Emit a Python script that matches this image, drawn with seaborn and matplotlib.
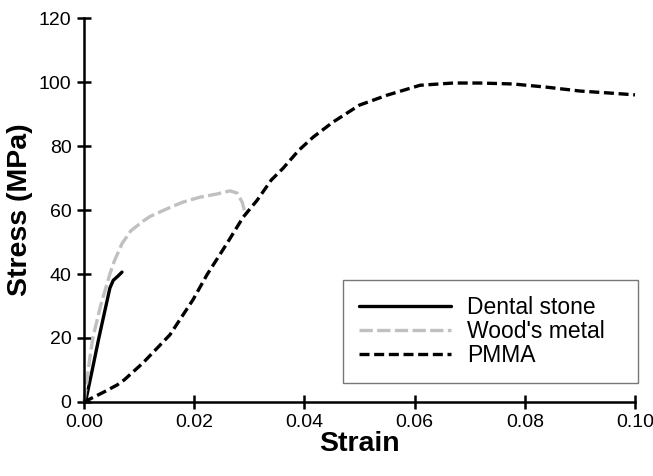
import matplotlib
matplotlib.use("Agg")
import matplotlib.pyplot as plt
import seaborn as sns
import pandas as pd

# curves
dental_strain = [0, 0.0004, 0.0015, 0.0027, 0.0047, 0.0053, 0.0062, 0.0069]
dental_stress = [0, 1, 10, 20, 35.6, 38, 39.4, 40.6]

wood_strain = [0, 0.0005, 0.001, 0.0016, 0.003, 0.0047, 0.0055, 0.0069, 0.0085,
               0.0107, 0.012, 0.0156, 0.018, 0.021, 0.0241, 0.0265, 0.0278,
               0.0287, 0.0292]
wood_stress = [0, 6, 13, 20, 30, 40, 44, 49.5, 53.5,
               56.5, 58, 60.8, 62.5, 64, 65, 66, 65.3,
               62.5, 59.4]

pmma_strain = [0, 0.0036, 0.006, 0.0073, 0.0107, 0.0156, 0.0198, 0.0223, 0.026,
               0.0289, 0.0314, 0.034, 0.0361, 0.039, 0.0416, 0.0452, 0.050,
               0.055, 0.061, 0.067, 0.0719, 0.0779, 0.084, 0.090, 0.096, 0.1]
pmma_stress = [0, 3.1, 5.3, 6.9, 12.2, 21, 32, 39.7, 49.7,
               57.8, 63, 69.4, 73, 78.7, 82.8, 87.5, 92.8,
               95.9, 99, 99.7, 99.7, 99.4, 98.4, 97.2, 96.5, 96]

x_ticks = [0.00, 0.02, 0.04, 0.06, 0.08, 0.10]
y_ticks = [0, 20, 40, 60, 80, 100, 120]

sns.set_style("ticks")
plt.rcParams['font.family'] = ['Liberation Sans', 'DejaVu Sans']
for k in ['text.color', 'axes.labelcolor', 'xtick.color', 'ytick.color', 'axes.edgecolor']:
    plt.rcParams[k] = 'black'

fig = plt.figure(figsize=(6.53, 4.76), dpi=100)
ax = fig.add_axes([0.1286, 0.1555, 0.8438, 0.8065])

sns.lineplot(x=dental_strain, y=dental_stress, ax=ax, color='black', lw=2.4,
             sort=False, estimator=None, label='Dental stone')
sns.lineplot(x=wood_strain, y=wood_stress, ax=ax, color='#c0c0c0', lw=2.4,
             sort=False, estimator=None, label="Wood's metal")
sns.lineplot(x=pmma_strain, y=pmma_stress, ax=ax, color='black', lw=2.4,
             sort=False, estimator=None, label='PMMA')
ax.lines[1].set_dashes([4, 1.3])
ax.lines[2].set_dashes([3, 1.4])

ax.set_xlim(0, 0.1)
ax.set_ylim(0, 120)
ax.set_xticks(x_ticks)
ax.set_yticks(y_ticks)
ax.set_xticklabels([f"{t:.2f}" for t in x_ticks])
ax.set_yticklabels([str(t) for t in y_ticks])
ax.tick_params(direction='inout', length=10, width=1.8, labelsize=14, pad=4)
ax.set_xlabel('Strain', fontsize=20.5, fontweight='bold', labelpad=0)
ax.set_ylabel('Stress (MPa)', fontsize=20.5, fontweight='bold', labelpad=4)
sns.despine(ax=ax)
for s in ['left', 'bottom']:
    ax.spines[s].set_linewidth(1.8)
    ax.spines[s].set_clip_on(False)
for ln in ax.lines:
    ln.set_clip_on(False)

leg = ax.legend(loc='lower left', bbox_to_anchor=(0.47, 0.049, 0.535, 0.26),
                mode='expand', fontsize=16.5, frameon=True, fancybox=False,
                edgecolor='#555555', handlelength=4.0, handletextpad=0.7,
                labelspacing=0.03, borderpad=0.72, borderaxespad=0)
leg.get_frame().set_linewidth(1.0)

fig.savefig('out.png', dpi=100)
